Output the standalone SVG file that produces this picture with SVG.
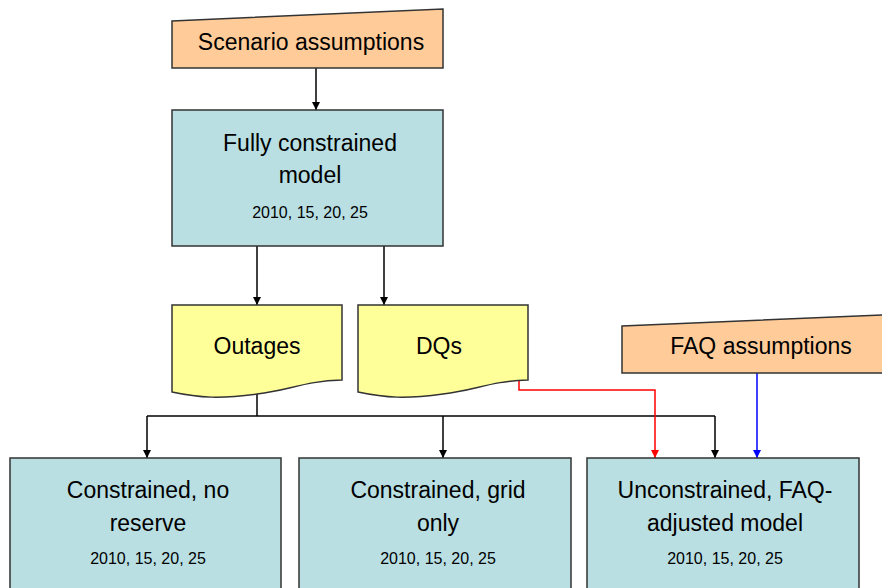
<svg xmlns="http://www.w3.org/2000/svg" width="882" height="588" viewBox="0 0 882 588">
<style>
  .box{fill:#B9DFE3;stroke:#333;stroke-width:1.5}
  .asm{fill:#FFCC99;stroke:#333;stroke-width:1.5}
  .doc{fill:#FFFF99;stroke:#333;stroke-width:1.5}
  .big{font-family:"Liberation Sans",Arial,sans-serif;font-size:23px;fill:#000;text-anchor:middle}
  .small{font-family:"Liberation Sans",Arial,sans-serif;font-size:16px;fill:#000;text-anchor:middle}
  .c{fill:none;stroke-width:1.5}
</style>
<defs>
  <marker id="ak" viewBox="0 0 10 10" refX="10" refY="5" markerWidth="8" markerHeight="8" markerUnits="userSpaceOnUse" orient="auto"><path d="M0,0 L10,5 L0,10 z" fill="#000"/></marker>
  <marker id="ar" viewBox="0 0 10 10" refX="10" refY="5" markerWidth="8" markerHeight="8" markerUnits="userSpaceOnUse" orient="auto"><path d="M0,0 L10,5 L0,10 z" fill="#f00"/></marker>
  <marker id="ab" viewBox="0 0 10 10" refX="10" refY="5" markerWidth="8" markerHeight="8" markerUnits="userSpaceOnUse" orient="auto"><path d="M0,0 L10,5 L0,10 z" fill="#00f"/></marker>
</defs>
<rect width="882" height="588" fill="#fff"/>
<g id="connectors">
  <path class="c" stroke="#000" d="M316,68 V110" marker-end="url(#ak)"/>
  <path class="c" stroke="#000" d="M257,246 V305" marker-end="url(#ak)"/>
  <path class="c" stroke="#000" d="M384,246 V305" marker-end="url(#ak)"/>
  <path class="c" stroke="#000" d="M257,394 V416"/>
  <path class="c" stroke="#000" d="M147,416 H715"/>
  <path class="c" stroke="#000" d="M147,416 V458" marker-end="url(#ak)"/>
  <path class="c" stroke="#000" d="M443,416 V458" marker-end="url(#ak)"/>
  <path class="c" stroke="#000" d="M715,416 V458" marker-end="url(#ak)"/>
  <path class="c" stroke="#f00" d="M519,381 V390 H655 V458" marker-end="url(#ar)"/>
  <path class="c" stroke="#00f" d="M757,373 V458" marker-end="url(#ab)"/>
</g>
<g id="scenario">
  <polygon class="asm" points="172,21 443,9 443,68 172,68"/>
  <text class="big" x="311" y="50">Scenario assumptions</text>
</g>
<g id="fully">
  <rect class="box" x="172" y="110" width="271" height="136"/>
  <text class="big" x="310" y="151">Fully constrained</text>
  <text class="big" x="310" y="183">model</text>
  <text class="small" x="310" y="218">2010, 15, 20, 25</text>
</g>
<g id="outages">
  <path class="doc" d="M172,305 H342 V380 C305,381 290,390 257,394 C220,399 200,398 172,392 Z"/>
  <text class="big" x="257" y="354">Outages</text>
</g>
<g id="dqs">
  <path class="doc" d="M358,305 H528 V380 C491,381 476,390 443,394 C406,399 386,398 358,392 Z"/>
  <text class="big" x="439" y="354">DQs</text>
</g>
<g id="faq">
  <polygon class="asm" points="622,326 884,315 884,373 622,373"/>
  <text class="big" x="761" y="354">FAQ assumptions</text>
</g>
<g id="noreserve">
  <rect class="box" x="10" y="458" width="271" height="140"/>
  <text class="big" x="148" y="498">Constrained, no</text>
  <text class="big" x="148" y="531">reserve</text>
  <text class="small" x="148" y="564">2010, 15, 20, 25</text>
</g>
<g id="gridonly">
  <rect class="box" x="299" y="458" width="272" height="140"/>
  <text class="big" x="438" y="498">Constrained, grid</text>
  <text class="big" x="438" y="531">only</text>
  <text class="small" x="438" y="564">2010, 15, 20, 25</text>
</g>
<g id="unconstrained">
  <rect class="box" x="587" y="458" width="272" height="140"/>
  <text class="big" x="725" y="498">Unconstrained, FAQ-</text>
  <text class="big" x="725" y="531">adjusted model</text>
  <text class="small" x="725" y="564">2010, 15, 20, 25</text>
</g>
</svg>
